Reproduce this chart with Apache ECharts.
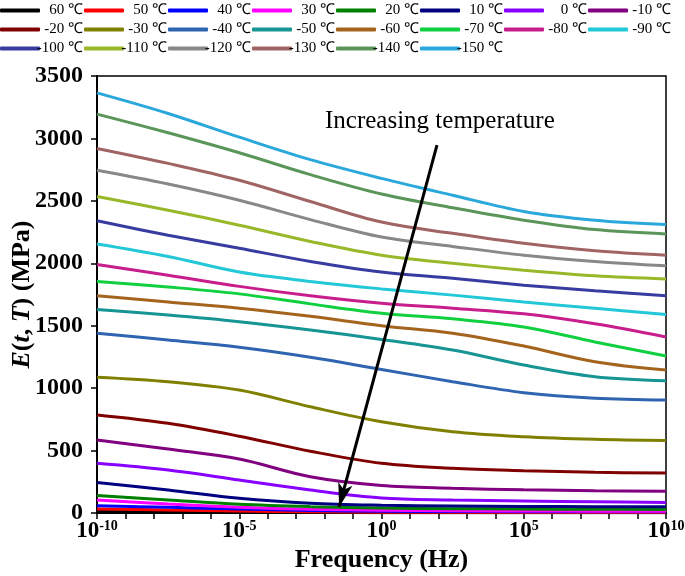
<!DOCTYPE html>
<html>
<head>
<meta charset="utf-8">
<script src="https://cdn.jsdelivr.net/npm/echarts@6/dist/echarts.min.js"></script>
<style>html,body{margin:0;padding:0;background:#fff}#c{width:685px;height:576px}</style>
</head>
<body>
<div id="c"></div>
<script>
// x positions: log10(Frequency / Hz)
const logFreq = [-10, -7.5, -5, -2.5, 0, 2.5, 5, 7.5, 10];
const xTickLabels = [-10, -5, 0, 5, 10];
const yTicks = [0, 500, 1000, 1500, 2000, 2500, 3000, 3500];

const temperatures = ['60 ℃','50 ℃','40 ℃','30 ℃','20 ℃','10 ℃','0 ℃','-10 ℃',
  '-20 ℃','-30 ℃','-40 ℃','-50 ℃','-60 ℃','-70 ℃','-80 ℃','-90 ℃',
  '-100 ℃','-110 ℃','-120 ℃','-130 ℃','-140 ℃','-150 ℃'];

const E_p60  = [12, 8, 5, 4, 3, 3, 2, 2, 2];
const E_p50  = [32, 24, 16, 10, 7, 6, 5, 5, 5];
const E_p40  = [58, 46, 32, 20, 14, 12, 11, 10, 10];
const E_p30  = [105, 72, 46, 30, 22, 18, 16, 15, 14];
const E_p20  = [140, 104, 70, 51, 40, 35, 32, 30, 28];
const E_p10  = [245, 185, 118, 78, 62, 56, 53, 51, 50];
const E_0    = [398, 344, 264, 184, 120, 104, 96, 90, 84];
const E_m10  = [585, 512, 432, 290, 220, 198, 186, 179, 174];
const E_m20  = [785, 718, 615, 495, 398, 358, 339, 326, 320];
const E_m30  = [1088, 1052, 985, 851, 731, 651, 611, 590, 580];
const E_m40  = [1440, 1385, 1327, 1247, 1150, 1052, 964, 920, 905];
const E_m50  = [1630, 1585, 1532, 1466, 1390, 1305, 1185, 1092, 1060];
const E_m60  = [1740, 1690, 1640, 1575, 1500, 1440, 1337, 1212, 1145];
const E_m70  = [1855, 1810, 1755, 1675, 1600, 1555, 1490, 1370, 1257];
const E_m80  = [1990, 1905, 1815, 1740, 1680, 1640, 1595, 1515, 1410];
const E_m90  = [2155, 2055, 1930, 1855, 1795, 1745, 1690, 1640, 1590];
const E_m100 = [2340, 2225, 2120, 2015, 1930, 1880, 1825, 1780, 1740];
const E_m110 = [2535, 2425, 2305, 2175, 2065, 2000, 1945, 1900, 1875];
const E_m120 = [2745, 2635, 2505, 2350, 2210, 2135, 2065, 2015, 1980];
const E_m130 = [2920, 2800, 2665, 2495, 2330, 2240, 2160, 2100, 2065];
const E_m140 = [3195, 3045, 2885, 2710, 2555, 2445, 2345, 2270, 2235];
const E_m150 = [3365, 3200, 3010, 2830, 2680, 2545, 2415, 2345, 2310];

const seriesValues = [E_p60, E_p50, E_p40, E_p30, E_p20, E_p10, E_0, E_m10,
  E_m20, E_m30, E_m40, E_m50, E_m60, E_m70, E_m80, E_m90,
  E_m100, E_m110, E_m120, E_m130, E_m140, E_m150];

const colors = ['#000000','#ff0000','#0000ff','#ff00ff','#008000','#000080','#8800ff','#800080',
  '#800000','#808000','#2f64b0','#179494','#a5641e','#10d040','#c81e8c','#22c8d8',
  '#383ca0','#98b82a','#888888','#a06464','#5a965a','#2aa8dc'];

const serif = '"Liberation Serif", "Times New Roman", serif';

const series = temperatures.map((name, i) => ({
  name: name,
  type: 'line',
  smooth: 0.35,
  showSymbol: false,
  symbol: 'none',
  color: colors[i],
  lineStyle: { width: 3, color: colors[i] },
  data: logFreq.map((x, j) => [x, seriesValues[i][j]])
}));

// annotation arrow
series.push({
  name: '__arrow',
  type: 'line',
  data: [],
  silent: true,
  markLine: {
    silent: true,
    symbol: ['none', 'arrow'],
    symbolSize: [11, 24],
    label: { show: false },
    lineStyle: { color: '#000', width: 3, type: 'solid' },
    data: [[ { coord: [1.95, 2947] }, { coord: [-1.49, 48] } ]]
  }
});

function legendRow(names, top) {
  return {
    data: names,
    left: 0, top: top, width: 685,
    padding: 0,
    itemWidth: 40, itemHeight: 4, itemGap: 1,
    icon: 'roundRect',
    formatter: n => '{t|' + n + '}',
    textStyle: {
      fontFamily: serif, fontSize: 15, color: '#000',
      rich: { t: { width: 38, align: 'right', fontFamily: serif, fontSize: 15, color: '#000' } }
    }
  };
}

const chart = echarts.init(document.getElementById('c'), null, { renderer: 'canvas' });
chart.setOption({
  animation: false,
  backgroundColor: '#fff',
  color: colors,
  legend: [
    legendRow(temperatures.slice(0, 8), 3),
    legendRow(temperatures.slice(8, 16), 22),
    legendRow(temperatures.slice(16), 41)
  ],
  grid: { left: 97, right: 19, top: 76, bottom: 63, show: true, borderColor: '#000', borderWidth: 1.5,
          containLabel: false, outerBoundsMode: 'none' },
  xAxis: {
    type: 'value', min: -10, max: 10, interval: 1,
    name: 'Frequency (Hz)', nameLocation: 'middle', nameGap: 30,
    nameTextStyle: { fontFamily: serif, fontWeight: 'bold', fontSize: 26, color: '#000' },
    axisLine: { onZero: false, lineStyle: { color: '#000', width: 2 } },
    axisTick: { inside: false, length: 6, lineStyle: { color: '#000', width: 1.5 } },
    splitLine: { show: false },
    axisLabel: {
      margin: 6,
      fontFamily: serif, fontWeight: 'bold', fontSize: 23, color: '#000',
      formatter: v => xTickLabels.indexOf(v) >= 0 ? '{b|10}{s|' + v + '}' : '',
      rich: {
        b: { fontFamily: serif, fontWeight: 'bold', fontSize: 23, color: '#000' },
        s: { fontFamily: serif, fontWeight: 'bold', fontSize: 14, color: '#000', verticalAlign: 'top', padding: [0, 0, 10, 0] }
      }
    }
  },
  yAxis: {
    type: 'value', min: yTicks[0], max: yTicks[yTicks.length - 1], interval: 500,
    name: '{i|E}{n|(}{i|t}{n|, }{i|T}{n|) (MPa)}', nameLocation: 'middle', nameGap: 62, nameRotate: 90,
    nameMoveOverlap: false,
    nameTextStyle: {
      fontFamily: serif, fontWeight: 'bold', fontSize: 26, color: '#000',
      rich: {
        i: { fontFamily: serif, fontWeight: 'bold', fontStyle: 'italic', fontSize: 26, color: '#000' },
        n: { fontFamily: serif, fontWeight: 'bold', fontSize: 26, color: '#000' }
      }
    },
    axisLine: { show: true, onZero: false, lineStyle: { color: '#000', width: 2 } },
    axisTick: { show: true, inside: false, length: 6, lineStyle: { color: '#000', width: 1.5 } },
    splitLine: { show: false },
    axisLabel: { margin: 14, fontFamily: serif, fontWeight: 'bold', fontSize: 24, color: '#000', formatter: v => String(v) }
  },
  graphic: [{
    type: 'text', left: 325, top: 109,
    style: { text: 'Increasing temperature', fontFamily: serif, fontSize: 25, fill: '#000' }
  }],
  series: series
});
</script>
</body>
</html>
